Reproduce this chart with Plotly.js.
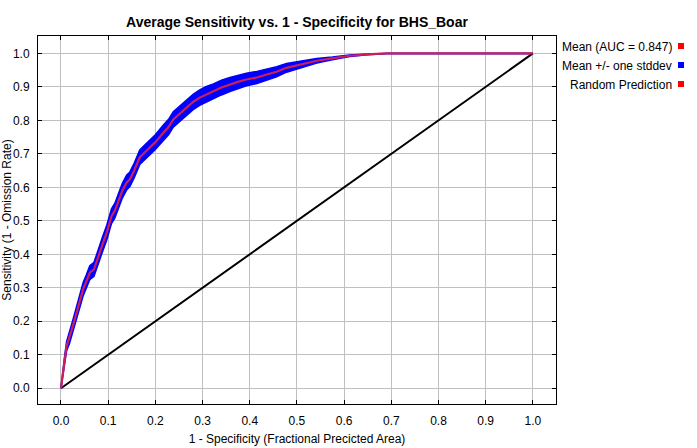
<!DOCTYPE html>
<html>
<head>
<meta charset="utf-8">
<script src="https://cdn.plot.ly/plotly-3.0.1.min.js"></script>
<style>html,body{margin:0;padding:0;background:#fff;}#chart{width:697px;height:448px;}</style>
</head>
<body>
<div id="chart"></div>
<script>
// 1 - specificity (fractional predicted area)
const fpr = [0, 0.004, 0.008, 0.012, 0.018, 0.023, 0.028, 0.033, 0.040, 0.047, 0.054, 0.061, 0.070, 0.079, 0.088, 0.097, 0.107, 0.114, 0.121, 0.130, 0.139, 0.146, 0.155, 0.167, 0.178, 0.189, 0.200, 0.217, 0.228, 0.238, 0.252, 0.266, 0.280, 0.294, 0.308, 0.323, 0.340, 0.358, 0.375, 0.393, 0.415, 0.436, 0.457, 0.478, 0.500, 0.520, 0.542, 0.575, 0.612, 0.650, 0.690, 0.750, 0.800, 0.900, 1.0];
// mean sensitivity
const meanTpr = [0, 0.050, 0.087, 0.126, 0.150, 0.176, 0.200, 0.226, 0.260, 0.296, 0.320, 0.345, 0.355, 0.395, 0.430, 0.465, 0.514, 0.530, 0.559, 0.590, 0.614, 0.624, 0.650, 0.690, 0.705, 0.720, 0.735, 0.763, 0.780, 0.803, 0.820, 0.838, 0.855, 0.868, 0.878, 0.887, 0.898, 0.907, 0.915, 0.922, 0.928, 0.937, 0.945, 0.957, 0.964, 0.969, 0.978, 0.985, 0.993, 0.997, 1.0, 1.0, 1.0, 1.0, 1.0];
// one standard deviation of sensitivity
const sdTpr = [0, 0.008, 0.012, 0.014, 0.016, 0.017, 0.018, 0.018, 0.019, 0.020, 0.020, 0.021, 0.021, 0.022, 0.022, 0.022, 0.022, 0.022, 0.022, 0.022, 0.022, 0.022, 0.022, 0.022, 0.022, 0.022, 0.022, 0.023, 0.023, 0.023, 0.023, 0.023, 0.023, 0.023, 0.023, 0.022, 0.022, 0.021, 0.020, 0.019, 0.018, 0.016, 0.015, 0.013, 0.011, 0.009, 0.007, 0.004, 0.002, 0.001, 0, 0, 0, 0, 0];
// random prediction
const randX = [0, 1];
const randY = [0, 1];
const tickVals = [0, 0.1, 0.2, 0.3, 0.4, 0.5, 0.6, 0.7, 0.8, 0.9, 1.0];
const tickText = ['0.0', '0.1', '0.2', '0.3', '0.4', '0.5', '0.6', '0.7', '0.8', '0.9', '1.0'];
const legendNames = ['Mean (AUC = 0.847)', 'Mean +/- one stddev', 'Random Prediction'];
const legendColors = ['#ff0000', '#0000ff', '#ff0000'];

const upper = meanTpr.map((m, i) => Math.min(1, m + sdTpr[i]));
const lower = meanTpr.map((m, i) => Math.max(0, m - sdTpr[i]));

const traces = [
  {x: fpr, y: lower, mode: 'lines', line: {color: '#0000ff', width: 1.5}, showlegend: false, hoverinfo: 'skip'},
  {x: fpr, y: upper, mode: 'lines', line: {color: '#0000ff', width: 1.5}, fill: 'tonexty', fillcolor: '#0000ff', showlegend: false, name: legendNames[1]},
  {x: randX, y: randY, mode: 'lines', line: {color: '#000000', width: 2}, showlegend: false, name: legendNames[2]},
  {x: fpr, y: meanTpr, mode: 'lines', line: {color: 'rgb(205,30,90)', width: 2.2}, showlegend: false, name: legendNames[0]}
];

const font = 'Liberation Sans, Arial, sans-serif';
const L = 38, R = 556, T = 36, B = 404;
const pw = R - L, ph = B - T;
const px = v => (v - L) / pw;
const py = v => (B - v) / ph;

const legendY = [47, 66, 85];
const annotations = legendNames.map((n, i) => ({
  xref: 'paper', yref: 'paper', x: px(674), y: py(legendY[i]), xanchor: 'right', yanchor: 'middle',
  text: n, showarrow: false, font: {family: font, size: 12, color: '#000'}
}));
const shapes = legendColors.map((c, i) => ({
  type: 'rect', xref: 'paper', yref: 'paper',
  x0: px(678), x1: px(684), y0: py(legendY[i] - 4), y1: py(legendY[i] + 2),
  fillcolor: c, line: {width: 0}
}));

const axisCommon = {
  tickvals: tickVals, ticktext: tickText,
  showgrid: true, gridcolor: '#c0c0c0', gridwidth: 1,
  zeroline: false, showline: true, linecolor: '#000', linewidth: 1, mirror: 'ticks',
  ticks: 'inside', ticklen: 4, tickcolor: '#000', tickfont: {family: font, size: 12, color: '#000'}
};

const layout = {
  width: 697, height: 448,
  margin: {l: L, r: 697 - R, t: T, b: 448 - B},
  paper_bgcolor: '#fff', plot_bgcolor: '#fff',
  title: {text: '<b>Average Sensitivity vs. 1 - Specificity for BHS_Boar</b>', font: {family: font, size: 14, color: '#000'}, x: 0.5, xref: 'paper', y: 1 - 22 / 448, yanchor: 'middle'},
  xaxis: Object.assign({}, axisCommon, {range: [-0.0487, 1.049], ticklabelstandoff: 6, title: {text: '1 - Specificity (Fractional Precicted Area)', font: {family: font, size: 12, color: '#000'}, standoff: 7}}),
  yaxis: Object.assign({}, axisCommon, {range: [-0.047, 1.052], ticklabelstandoff: 5, title: {text: 'Sensitivity (1 - Omission Rate)', font: {family: font, size: 12, color: '#000'}, standoff: 4}}),
  showlegend: false,
  annotations: annotations,
  shapes: shapes
};

Plotly.newPlot('chart', traces, layout, {staticPlot: true, displayModeBar: false});
</script>
</body>
</html>
